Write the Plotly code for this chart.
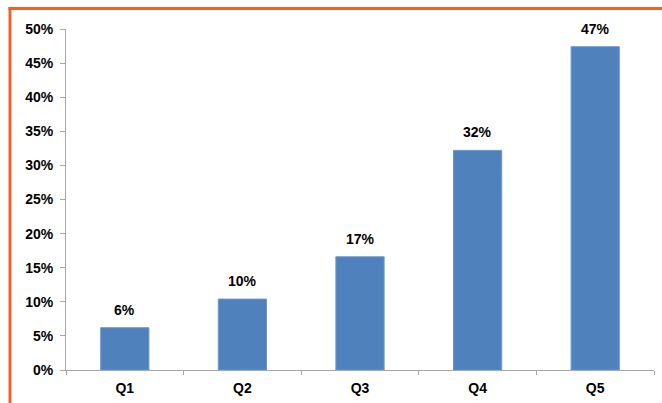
import plotly.graph_objects as go

# Share by quintile
categories = ["Q1", "Q2", "Q3", "Q4", "Q5"]
shares = [6.2, 10.4, 16.6, 32.2, 47.4]
y_ticks = [0, 5, 10, 15, 20, 25, 30, 35, 40, 45, 50]

W, H = 662, 403
ML, MR, MT, MB = 66, 8, 29, 33
plot_w = W - ML - MR
plot_h = H - MT - MB

font = dict(family="Liberation Sans, Arial, sans-serif", size=14, color="#000000")

fig = go.Figure(
    go.Bar(
        x=categories,
        y=shares,
        width=0.41,
        marker=dict(color="#4F81BD", line=dict(color="#6B97CE", width=1)),
    )
)

# value labels above each bar
for cat, val in zip(categories, shares):
    fig.add_annotation(
        x=cat, y=val, text=f"<b>{val:.0f}%</b>",
        showarrow=False, yanchor="bottom", yshift=8, font=font,
    )

# orange frame along the top and left edges
def px_x(px):
    return (px - ML) / plot_w

def px_y(py):
    return (H - MB - py) / plot_h

frame = "#F0612C"
fig.add_shape(type="line", xref="paper", yref="paper",
              x0=px_x(8.5), x1=px_x(W + 5), y0=px_y(8.5), y1=px_y(8.5),
              line=dict(color=frame, width=3))
fig.add_shape(type="line", xref="paper", yref="paper",
              x0=px_x(10), x1=px_x(10), y0=px_y(7), y1=px_y(H + 5),
              line=dict(color=frame, width=3))

fig.update_layout(
    width=W,
    height=H,
    margin=dict(l=ML, r=MR, t=MT, b=MB),
    paper_bgcolor="white",
    plot_bgcolor="white",
    showlegend=False,
    font=font,
    xaxis=dict(
        showline=True,
        linecolor="#A6A6A6",
        linewidth=1,
        ticks="outside",
        ticklen=4,
        tickcolor="#A6A6A6",
        tickson="boundaries",
        tickfont=font,
        tickprefix="<b>",
        ticksuffix="</b>",
        ticklabelstandoff=5,
        showgrid=False,
        fixedrange=True,
    ),
    yaxis=dict(
        range=[0, 50],
        tickvals=y_ticks,
        ticktext=[f"<b>{v}%</b>" for v in y_ticks],
        showline=True,
        linecolor="#A6A6A6",
        linewidth=1,
        ticks="outside",
        ticklen=5,
        tickcolor="#A6A6A6",
        tickfont=font,
        ticklabelstandoff=4,
        showgrid=False,
        zeroline=False,
        fixedrange=True,
    ),
)

fig.write_html("out.html")
